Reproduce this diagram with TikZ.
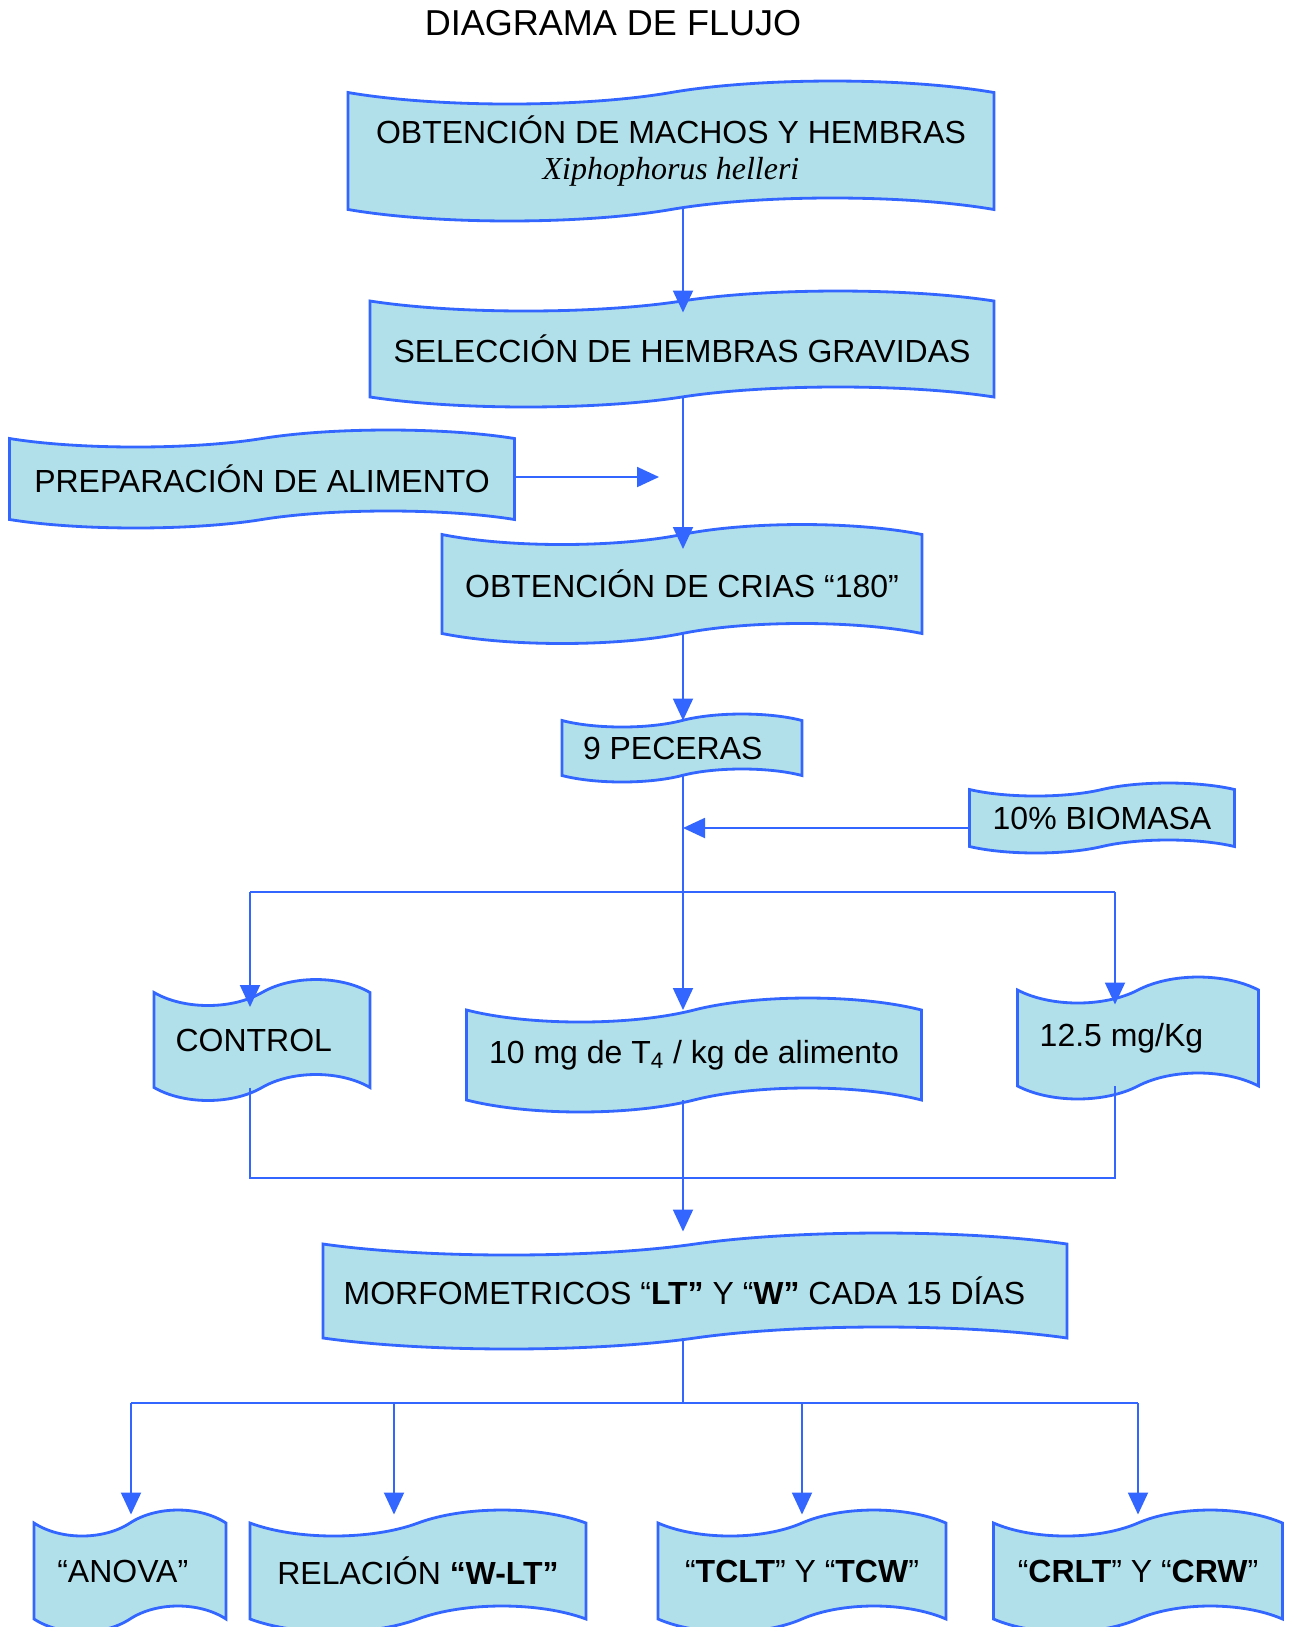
\documentclass[tikz,border=0pt]{standalone}
\usepackage{fontspec}
\setmainfont{Liberation Sans}
\newfontfamily\serifit{Liberation Serif}
\usepackage{tikz}
\usetikzlibrary{shapes.symbols, arrows.meta, positioning}

\definecolor{water}{RGB}{178,224,234}
\definecolor{lineblue}{RGB}{51,102,255}

\begin{document}
\begin{tikzpicture}[x=0.02cm, y=-0.02cm]
    % Define styles for the nodes
    \tikzstyle{tapebox} = [
        tape, draw=lineblue, fill=water, line width=1.6pt,
        text centered, align=center, inner sep=0, outer sep=0,
        font=\fontsize{18.2}{21}\selectfont
    ]

    \tikzstyle{arrow} = [
        draw=lineblue, line width=1.1pt,
        >={Triangle[length=0.44cm, width=0.4cm]}
    ]

    \useasboundingbox (0,0) rectangle (1293,1627);

    % Title
    \node[font=\fontsize{20.5}{24}\selectfont] (title) at (613,23) {DIAGRAMA DE FLUJO};

    % Main column
    \node[tapebox, minimum width=12.92cm, minimum height=2.8cm, tape bend height=0.46cm]
        (obtencion) at (671,151)
        {OBTENCIÓN DE MACHOS Y HEMBRAS\\{\serifit\itshape Xiphophorus helleri}};
    \node[tapebox, minimum width=12.48cm, minimum height=2.32cm, tape bend height=0.4cm]
        (seleccion) at (682,349) {SELECCIÓN DE HEMBRAS GRAVIDAS};
    \node[tapebox, minimum width=10.1cm, minimum height=1.96cm, tape bend height=0.34cm]
        (preparacion) at (262,479) {PREPARACIÓN DE ALIMENTO};
    \node[tapebox, minimum width=9.6cm, minimum height=2.38cm, tape bend height=0.4cm]
        (crias) at (682,584) {OBTENCIÓN DE CRIAS “180”};
    \node[tapebox, minimum width=4.8cm, minimum height=1.36cm, tape bend height=0.26cm]
        (peceras) at (682,748) {9 PECERAS\hspace*{0.37cm}};
    \node[tapebox, minimum width=5.3cm, minimum height=1.4cm, tape bend height=0.26cm]
        (biomasa) at (1102,818) {10\% BIOMASA};

    % Treatments
    \node[tapebox, minimum width=4.32cm, minimum height=2.42cm, tape bend height=0.52cm]
        (control) at (262,1040) {CONTROL\hspace*{0.33cm}};
    \node[tapebox, minimum width=9.1cm, minimum height=2.28cm, tape bend height=0.48cm]
        (dosis) at (694,1055) {10 mg de T\textsubscript{4} / kg de alimento};
    \node[tapebox, minimum width=4.82cm, minimum height=2.44cm, tape bend height=0.52cm]
        (dosis_alta) at (1138,1038) {12.5 mg/Kg\hspace*{0.66cm}};

    \node[tapebox, minimum width=14.88cm, minimum height=2.32cm, tape bend height=0.44cm]
        (morfometricos) at (695,1291)
        {MORFOMETRICOS “\textbf{LT”} Y “\textbf{W”} CADA 15 DÍAS\hspace*{0.42cm}};

    % Analyses
    \node[tapebox, minimum width=3.84cm, minimum height=2.44cm, tape bend height=0.52cm]
        (anova) at (130,1571) {“ANOVA”\hspace*{0.29cm}};
    \node[tapebox, minimum width=6.72cm, minimum height=2.44cm, tape bend height=0.52cm]
        (relacion) at (418,1571) {RELACIÓN \textbf{“W-LT”}};
    \node[tapebox, minimum width=5.76cm, minimum height=2.44cm, tape bend height=0.52cm]
        (tclt) at (802,1571) {“\textbf{TCLT}” Y “\textbf{TCW}”};
    \node[tapebox, minimum width=5.78cm, minimum height=2.44cm, tape bend height=0.52cm]
        (crlt) at (1138,1571) {“\textbf{CRLT}” Y “\textbf{CRW}”};

    % Arrows down the main column
    \coordinate (spine) at (683,0);
    \draw[arrow, ->, shorten >=-0.23cm] (obtencion.south -| spine) -- (seleccion.north -| spine);
    \draw[arrow, ->, shorten >=-0.29cm] (seleccion.south -| spine) -- (crias.north -| spine);
    \draw[arrow, ->] (crias.south -| spine) -- (peceras.north -| spine);
    \draw[arrow, ->] (peceras.south -| spine) -- (dosis.north -| spine);

    % Side inputs
    \coordinate (food_tip) at (659,477);
    \draw[arrow, ->] (preparacion.east |- food_tip) -- (food_tip);
    \draw[arrow, ->] ([yshift=-0.2cm]biomasa.west) -- ([yshift=-0.2cm]biomasa.west -| spine);

    % Split into treatments
    \coordinate (split_l) at (250,892);
    \coordinate (split_r) at (1115,892);
    \draw[arrow] (split_l) -- (split_r);
    \draw[arrow, ->, shorten >=-0.29cm] (split_l) -- (split_l |- control.north);
    \draw[arrow, ->, shorten >=-0.29cm] (split_r) -- (split_r |- dosis_alta.north);

    % Join treatments
    \coordinate (join_l) at (250,1178);
    \coordinate (join_r) at (1115,1178);
    \draw[arrow] (control.south -| join_l) -- (join_l) -- (join_r)
        -- (dosis_alta.south -| join_r);
    \draw[arrow, ->, shorten >=0.25cm] (dosis.south -| spine) -- (morfometricos.north -| spine);

    % Split into analyses
    \coordinate (out_l) at (131,1403);
    \coordinate (out_rel) at (394,1403);
    \coordinate (out_tc) at (802,1403);
    \coordinate (out_r) at (1138,1403);
    \draw[arrow] (morfometricos.south -| spine) -- (spine |- out_l);
    \draw[arrow] (out_l) -- (out_r);
    \draw[arrow, ->, shorten >=0.17cm] (out_l) -- (out_l |- anova.north);
    \draw[arrow, ->, shorten >=0.17cm] (out_rel) -- (out_rel |- relacion.north);
    \draw[arrow, ->, shorten >=0.17cm] (out_tc) -- (out_tc |- tclt.north);
    \draw[arrow, ->, shorten >=0.17cm] (out_r) -- (out_r |- crlt.north);

\end{tikzpicture}
\end{document}
